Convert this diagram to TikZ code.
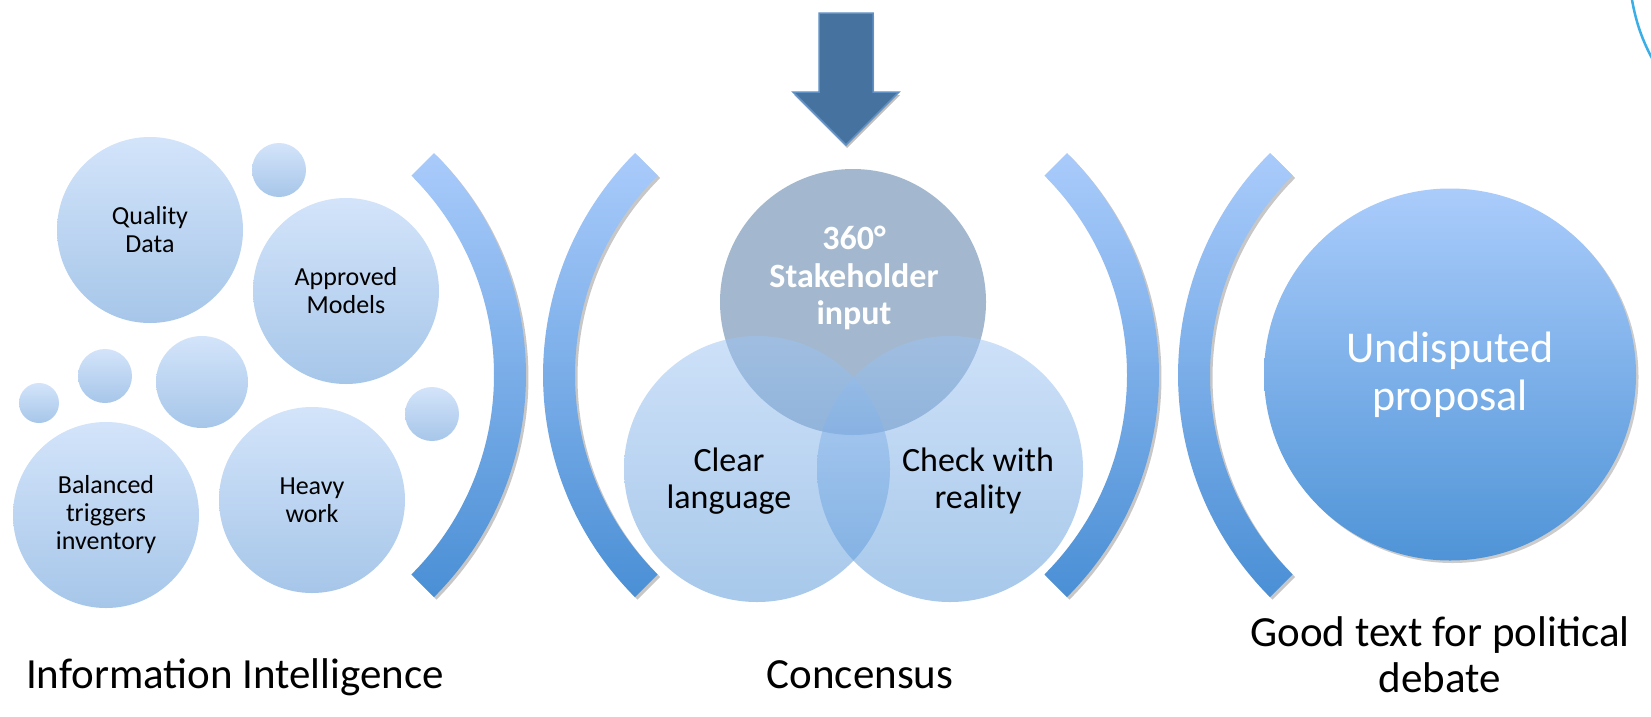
\documentclass[tikz,border=0pt]{standalone}
\usepackage{fontspec}
\setmainfont{Carlito}
\usetikzlibrary{shadows}
\definecolor{bubTop}{HTML}{D3E4FA}
\definecolor{bubBot}{HTML}{A6C6E9}
\definecolor{arcTop}{HTML}{A9CBFB}
\definecolor{arcBot}{HTML}{4A8FD5}
\definecolor{ellTop}{HTML}{AACCFB}
\definecolor{ellBot}{HTML}{4F94D7}
\definecolor{vtopc}{HTML}{A3B8CE}
\definecolor{vsideTop}{HTML}{9DC3F3}
\definecolor{vsideBot}{HTML}{5193D7}
\definecolor{arrowFill}{HTML}{45729F}
\definecolor{arrowLine}{HTML}{5F90C6}
\definecolor{cyanLine}{HTML}{3AAEE6}
\begin{document}
\begin{tikzpicture}[x=1pt,y=-1pt,
  bubble/.style={circle, inner sep=0pt, draw=none, top color=bubTop, bottom color=bubBot},
  bigbubble/.style={bubble, minimum size=186pt, align=center, text=black,
    font=\fontsize{26}{28}\selectfont},
  band/.style={top color=arcTop, bottom color=arcBot, draw=none,
    drop shadow={shadow xshift=2.5pt, shadow yshift=-2.5pt, opacity=0.22, fill=black}},
  vtop/.style={circle, inner sep=0pt, minimum size=266pt, fill=vtopc, draw=none},
  vside/.style={circle, inner sep=0pt, minimum size=266pt, top color=vsideTop,
    bottom color=vsideBot, fill opacity=0.5, draw=none},
  venntext/.style={align=center, inner sep=0pt, font=\fontsize{34}{37}\selectfont},
  caption/.style={align=center, inner sep=0pt, font=\fontsize{43}{46}\selectfont}]
\useasboundingbox (0,0) rectangle (1651,716);
\fill[white] (0,0) rectangle (1651,716);

% corner arc
\draw[cyanLine, line width=2.5pt] (1632,0) .. controls (1636,22) and (1642,40) .. (1653,60);

% left group of bubbles
\node[bigbubble] (qd) at (150,230) {Quality\\Data};
\node[bigbubble] (am) at (346,291) {Approved\\Models};
\node[bigbubble] (bt) at (106,515) {Balanced\\triggers\\inventory};
\node[bigbubble] (hw) at (312,500) {Heavy\\work};
\node[bubble, minimum size=54pt] (b1) at (279,170) {};
\node[bubble, minimum size=54pt] (b2) at (105,376) {};
\node[bubble, minimum size=92pt] (b3) at (202,382) {};
\node[bubble, minimum size=40pt] (b4) at (39,403) {};
\node[bubble, minimum size=54pt] (b5) at (432,414) {};

% bands
\path[band] (434.0,153.0) arc[start angle=-45, end angle=45, radius=314]
  -- (411.4,574.4) arc[start angle=45, end angle=-45, radius=282] -- cycle;
\path[band] (635.0,153.0) arc[start angle=225, end angle=135, radius=314]
  -- (657.6,574.4) arc[start angle=135, end angle=225, radius=282] -- cycle;
\path[band] (1067.0,153.0) arc[start angle=-45, end angle=45, radius=314]
  -- (1044.4,574.4) arc[start angle=45, end angle=-45, radius=282] -- cycle;
\path[band] (1270.0,153.0) arc[start angle=225, end angle=135, radius=314]
  -- (1292.6,574.4) arc[start angle=135, end angle=225, radius=282] -- cycle;

% down arrow
\filldraw[fill=arrowFill, draw=arrowLine, line width=1.5pt, line join=miter,
  drop shadow={shadow xshift=1pt, shadow yshift=-3pt, opacity=0.25, fill=black}]
  (819,13) -- (873,13) -- (873,92) -- (899,92) -- (846,145) -- (793,92) -- (819,92) -- cycle;

% Venn
\node[vtop] (vt) at (853,302) {};
\node[vside] (vl) at (757,469) {};
\node[vside] (vr) at (950,469) {};
\node[venntext, text=white, font=\fontsize{34}{37.5}\selectfont\bfseries] (tt) at (854,278) {360°\\Stakeholder\\input};
\node[venntext] (tl) at (729,481) {Clear\\language};
\node[venntext] (tr) at (978,481) {Check with\\reality};

% result circle
\node[circle, inner sep=0pt, minimum size=372pt,
  top color=ellTop, bottom color=ellBot, text=white, align=center,
  font=\fontsize{44}{48}\selectfont,
  drop shadow={shadow xshift=2.5pt, shadow yshift=-2.5pt, opacity=0.2, fill=black}]
  (up) at (1450,374.5) {Undisputed\\proposal};

% captions
\node[caption, anchor=base] (c1) at (235,688) {Information Intelligence};
\node[caption, anchor=base] (c2) at (860,688) {Concensus};
\node[caption] (c3) at (1440,655) {Good text for political\\debate};
\end{tikzpicture}
\end{document}
